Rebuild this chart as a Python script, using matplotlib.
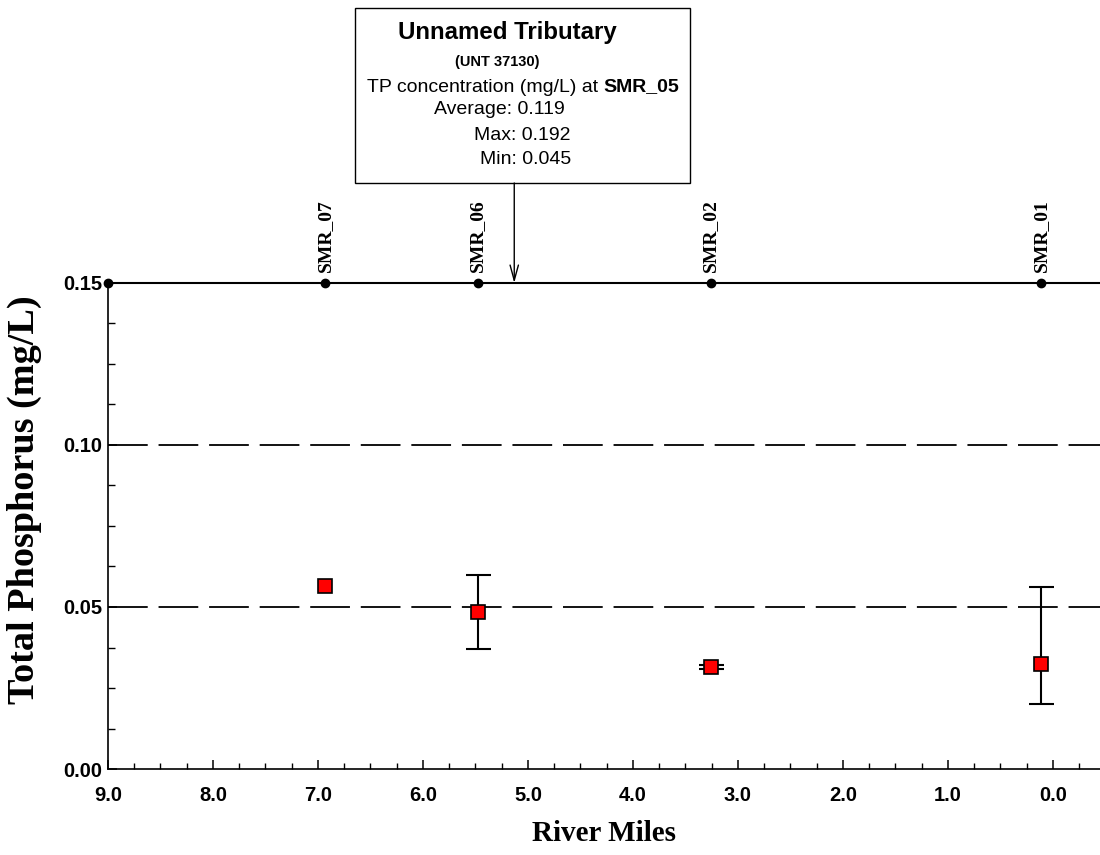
import matplotlib
matplotlib.use("Agg")
import matplotlib.pyplot as plt
from matplotlib.patches import Rectangle
from matplotlib.ticker import MultipleLocator, FormatStrFormatter

# ---- data ----
stations = ['SMR_07', 'SMR_06', 'SMR_02', 'SMR_01']
station_miles = [6.93, 5.48, 3.26, 0.11]
tp_mean = [0.0565, 0.0485, 0.0315, 0.0324]
tp_max = [0.0565, 0.0600, 0.0321, 0.0562]
tp_min = [0.0565, 0.0370, 0.0309, 0.0201]
ref_lines = [0.10, 0.05]
trib_mile = 5.13
trib_title = 'Unnamed Tributary'
trib_id = '(UNT 37130)'
trib_station = 'SMR_05'
trib_avg, trib_max, trib_min = 0.119, 0.192, 0.045

W, H = 1100, 855
fig = plt.figure(figsize=(11, 8.55), dpi=100)
ax = fig.add_axes([108 / W, 1 - 769 / H, (1100 - 108) / W, (769 - 283) / H])

x0, x1 = 9.0, -0.45
ax.set_xlim(x0, x1)
ax.set_ylim(0.0, 0.15)

# reference dashed lines
for yv in ref_lines:
    ax.axhline(yv, color='black', lw=1.3, dashes=(22, 6), zorder=1)

# station line at top
ax.plot([x0] + station_miles + [x1], [0.15] * (len(station_miles) + 2),
        color='black', lw=1.5, clip_on=False, zorder=3)
ax.plot([x0] + station_miles, [0.15] * (len(station_miles) + 1), 'o',
        color='black', ms=6, clip_on=False, zorder=4)
for name, m in zip(stations, station_miles):
    ax.text(m, 0.1535, name, rotation=90, ha='center', va='bottom',
            fontsize=14, fontweight='bold', family='Liberation Serif')

# error bars only where there is a range
idx = [i for i in range(len(stations)) if tp_max[i] > tp_min[i]]
ex = [station_miles[i] for i in idx]
ey = [tp_mean[i] for i in idx]
yerr = [[tp_mean[i] - tp_min[i] for i in idx],
        [tp_max[i] - tp_mean[i] for i in idx]]
ax.errorbar(ex, ey, yerr=yerr, fmt='none', ecolor='black', capsize=9,
            capthick=1.5, elinewidth=1.5, zorder=5)
ax.plot(station_miles, tp_mean, 's', mfc='red', mec='black', mew=1.2, ms=10,
        zorder=6)

# axes styling
for s in ['top', 'right']:
    ax.spines[s].set_visible(False)
for s in ['left', 'bottom']:
    ax.spines[s].set_linewidth(1.2)
ax.xaxis.set_major_locator(MultipleLocator(1.0))
ax.xaxis.set_minor_locator(MultipleLocator(0.25))
ax.yaxis.set_major_locator(MultipleLocator(0.05))
ax.yaxis.set_minor_locator(MultipleLocator(0.0125))
ax.xaxis.set_major_formatter(FormatStrFormatter('%.1f'))
ax.yaxis.set_major_formatter(FormatStrFormatter('%.2f'))
ax.tick_params(axis='both', which='major', direction='in', length=6.5, width=1.1,
               labelsize=14.5)
ax.tick_params(axis='x', which='minor', direction='in', length=4, width=1.0)
ax.tick_params(axis='y', which='minor', direction='in', length=5, width=1.0)
ax.tick_params(axis='x', which='major', pad=12)
ax.tick_params(axis='y', which='major', pad=4)
for lab in ax.get_xticklabels() + ax.get_yticklabels():
    lab.set_fontweight('bold')
    lab.set_family('Liberation Sans')

ax.set_xlabel('River Miles', fontsize=21, fontweight='bold',
              family='Liberation Serif')
ax.xaxis.set_label_coords(0.5, -(833 + 14 - 769) / 486)
ax.xaxis.label.set_va('bottom')
ax.set_ylabel('Total Phosphorus (mg/L)', fontsize=27.5, fontweight='bold',
              family='Liberation Serif')
ax.yaxis.set_label_coords((42 - 108) / 992, (769 - 500) / 486)

# tributary box
bx0, by0, bx1, by1 = 355, 8, 690, 183
fig.patches.append(Rectangle((bx0 / W, 1 - by1 / H), (bx1 - bx0) / W, (by1 - by0) / H,
                             transform=fig.transFigure, fill=False, ec='black', lw=1.0))

def ftext(x, y, s, **kw):
    return fig.text(x / W, 1 - y / H, s, family='Liberation Sans', **kw)

ftext(507, 32, trib_title, ha='center', va='center', fontsize=17.3, fontweight='bold')
ftext(497, 62, trib_id, ha='center', va='center', fontsize=10.5, fontweight='bold')
t1 = ftext(367, 87, 'TP concentration (mg/L) at ', ha='left', va='center', fontsize=14)
fig.canvas.draw()
ext = t1.get_window_extent(fig.canvas.get_renderer())
fig.text(ext.x1 / W, 1 - 87 / H, trib_station, ha='left', va='center', fontsize=14,
         fontweight='bold', family='Liberation Sans')
ftext(434, 110, f'Average: {trib_avg:.3f}', ha='left', va='center', fontsize=14)
ftext(474, 135, f'Max: {trib_max:.3f}', ha='left', va='center', fontsize=14)
ftext(480, 160, f'Min: {trib_min:.3f}', ha='left', va='center', fontsize=14)

ax.annotate('', xy=(trib_mile, 0.15), xycoords='data',
            xytext=(trib_mile, 1 - by1 / H),
            textcoords=('data', 'figure fraction'),
            arrowprops=dict(arrowstyle='->,head_length=1.1,head_width=0.3',
                            color='black', lw=1.0, shrinkA=0, shrinkB=0),
            annotation_clip=False)

fig.savefig('out.png', dpi=100)
